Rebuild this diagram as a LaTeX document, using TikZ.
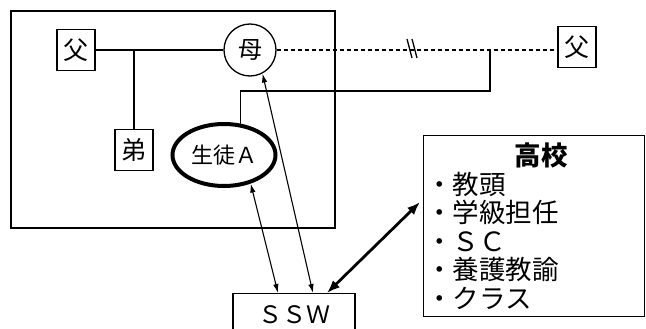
\documentclass[tikz,border=0pt]{standalone}
\usepackage{fontspec}
\setmainfont{Noto Sans CJK JP}
\usetikzlibrary{arrows.meta,shapes.geometric}
\begin{document}
\begin{tikzpicture}[x=1pt,y=-1pt,line width=1.3pt,
  sq/.style={draw,rectangle,minimum width=38pt,minimum height=41pt,inner sep=0pt,font=\fontsize{25}{25}\selectfont},
  circ/.style={draw,circle,minimum size=52pt,inner sep=0pt,font=\fontsize{24}{24}\selectfont},
  ell/.style={draw,ellipse,line width=4pt,minimum width=103pt,minimum height=62pt,inner sep=0pt,font=\fontsize{22}{22}\selectfont},
  arr/.style={line width=1.1pt,{Latex[length=9pt,width=5.5pt]}-{Latex[length=9pt,width=5.5pt]}},
  thickarr/.style={line width=2.8pt,{Latex[length=13pt,width=10pt]}-{Latex[length=13pt,width=10pt]}},
  dsh/.style={dash pattern=on 4.5pt off 2.5pt}]
\path[use as bounding box,clip] (0,0) rectangle (646,329);
% family frame
\draw[line width=1.5pt] (11,11) rectangle (335,228);
% nodes
\node[sq] (fL) at (76,50) {父};
\node[circ] (mo) at (250,50) {母};
\node[sq] (bro) at (134,150) {弟};
\node[ell] (st) at (224,155) {生徒Ａ};
\node[sq] (fR) at (577,47) {父};
\node[draw,rectangle,anchor=north,minimum width=122pt,inner sep=0pt,text height=30pt,text depth=22pt,font=\fontsize{24}{24}\selectfont] (ssw) at (294,293) {ＳＳＷ};
\node[draw,rectangle,anchor=north west,minimum width=221pt,minimum height=181pt,text width=216pt,align=left,inner sep=2pt,font=\fontsize{26.5}{28.5}\selectfont] (sch) at (423,135)
  {\makebox[216pt]{\hspace*{14pt}\bfseries 高校}\\・教頭\\・学級担任\\・ＳＣ\\・養護教諭\\・クラス};
% family lines
\draw (fL.east) -- (mo.west);
\draw (bro.north) -- (bro.north |- fL.east);
\draw[dsh] (mo.east) -- (mo.east -| fR.west);
\coordinate (j) at (490,50);
\coordinate (turn) at (490,91);
\draw (st.62) |- (turn) -- (j);
% divorce mark
\draw (407,39) -- (412,58);
\draw (412,39) -- (417,58);
% arrows
\draw[arr] (st.-47) -- ([xshift=-16pt]ssw.north);
\draw[arr] (mo.-62) -- ([xshift=19pt]ssw.north);
\draw[thickarr] ([xshift=33pt]ssw.north) -- ([xshift=-3pt,yshift=24pt]sch.west);
\end{tikzpicture}
\end{document}
